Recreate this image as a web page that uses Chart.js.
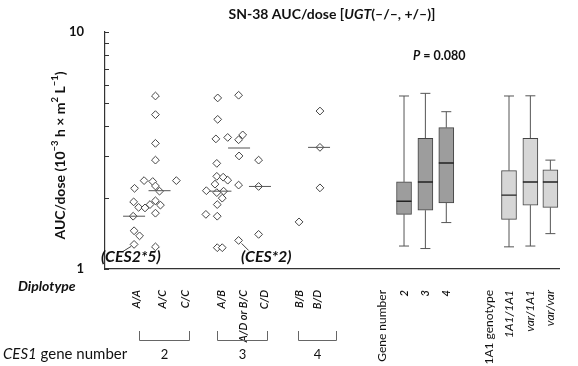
<!DOCTYPE html>
<html>
<head>
<meta charset="utf-8">
<script src="https://cdn.jsdelivr.net/npm/chart.js@4.4.0/dist/chart.umd.min.js"></script>
<style>
  html, body { margin: 0; padding: 0; background: #fff; }
  #wrap { width: 578px; height: 366px; }
</style>
</head>
<body>
<div id="wrap"><canvas id="auc" width="578" height="366"></canvas></div>
<script>
// x axis is a plain 0..100 scale across the plot, categories sit at these positions
const diplotypes = ['A/A', 'A/C', 'C/C', 'A/B', 'A/D or B/C', 'C/D', 'B/B', 'B/D'];
const diplotypePos = [7.0, 11.1, 15.7, 24.7, 29.4, 33.8, 42.7, 47.3];

// SN-38 AUC/dose per patient
const aucAA = [2.19, 2.36, 1.92, 1.82, 1.81, 1.67, 1.45, 1.38, 1.27];
const aucAC = [5.37, 4.48, 3.39, 2.88, 2.34, 2.24, 2.13, 1.87, 1.94, 1.86, 1.72, 1.24];
const aucCC = [2.36];
const aucAB = [5.27, 4.28, 3.54, 3.59, 2.79, 2.46, 2.44, 2.37, 2.28, 2.14, 2.10, 2.13, 1.99, 1.87, 1.70, 1.67, 1.23, 1.23];
const aucADBC = [5.41, 3.51, 3.68, 3.00, 2.26, 1.32];
const aucCD = [2.88, 2.23, 1.40];
const aucBB = [1.58];
const aucBD = [4.64, 3.26, 2.20];

// horizontal spread of overlapping points
const jitAA = [-0.5, 1.6, -0.7, 0.4, 1.8, -0.8, -0.6, 0.6, -0.6];
const jitAC = [0, 0, 0, 0, -0.6, 0, 0.9, -1.2, 0, 1.1, 0, 0];
const jitCC = [0];
const jitAB = [0.1, 0.1, -0.3, 2.3, -0.1, -0.1, 1.3, 2.3, -0.5, -2.4, -0.1, 1.4, 1.1, 0, -2.5, 0, 0, 1.1];
const jitADBC = [0, 0, 0.9, 0.1, 0, 0];
const jitCD = [0, 0, 0];
const jitBB = [0];
const jitBD = [0, 0, 0];

const diplotypeMedian = [1.67, 2.14, null, 2.13, 3.24, 2.23, null, 3.26];
const medianShift = [-0.6, 0.9, 0, 0.7, 0.1, 0.3, 0, -0.2];

// box plots: CES1 gene number 2,3,4 then UGT1A1 genotype
const boxPos = [65.8, 70.5, 75.1, 88.9, 93.6, 98.0];
const boxMin = [1.25, 1.22, 1.57, 1.24, 1.25, 1.41];
const boxQ1 = [1.70, 1.77, 1.90, 1.62, 1.86, 1.82];
const boxMed = [1.93, 2.33, 2.80, 2.05, 2.33, 2.33];
const boxQ3 = [2.33, 3.56, 3.95, 2.60, 3.56, 2.62];
const boxMax = [5.37, 5.51, 4.61, 5.37, 5.38, 2.88];
const boxFill = ['#9d9d9d', '#9d9d9d', '#9d9d9d', '#d6d6d6', '#d6d6d6', '#d6d6d6'];

const xTickLabels = ['A/A', 'A/C', 'C/C', 'A/B', 'A/D or B/C', 'C/D', 'B/B', 'B/D',
  'Gene number', '2', '3', '4', '1A1 genotype', '1A1/1A1', 'var/1A1', 'var/var'];
const xTickPos = [7.0, 12.7, 17.8, 25.6, 30.5, 35.0, 42.8, 46.7,
  61.0, 65.8, 70.5, 75.1, 84.5, 88.9, 93.6, 98.0];
const xTickKind = ['d', 'd', 'd', 'd', 'd', 'd', 'd', 'd', 'n', 'd', 'd', 'd', 'n', 'i', 'i', 'i'];
const yTicks = [1, 2, 3, 4, 5, 6, 7, 8, 9, 10];

const geneGroups = ['2', '3', '4'];
const bracketSpan = [[7.4, 18.4], [24.6, 35.6], [42.4, 50.8]];

const groups = [
  [aucAA, jitAA], [aucAC, jitAC], [aucCC, jitCC], [aucAB, jitAB],
  [aucADBC, jitADBC], [aucCD, jitCD], [aucBB, jitBB], [aucBD, jitBD]
];
const scatterPts = [];
groups.forEach((g, gi) => g[0].forEach((v, i) => scatterPts.push({ x: diplotypePos[gi] + g[1][i], y: v })));
const medianPts = [];
diplotypeMedian.forEach((m, i) => { if (m !== null) medianPts.push({ x: diplotypePos[i] + medianShift[i], y: m }); });

const whiskerPts = [];
boxPos.forEach((x, i) => {
  whiskerPts.push({ x, y: boxMin[i] }, { x, y: boxQ1[i] }, { x, y: null });
  whiskerPts.push({ x, y: boxQ3[i] }, { x, y: boxMax[i] }, { x, y: null });
});
const capPts = [];
boxPos.forEach((x, i) => { capPts.push({ x, y: boxMin[i] }, { x, y: boxMax[i] }); });

const FONT = 'Lato';

function richText(ctx, parts, x, y, size, align) {
  const fonts = parts.map(p => {
    const s = p[1] === 'sup' ? size * 0.68 : size;
    const st = p[1] === 'i' ? 'italic ' : '';
    const w = p[2] || 'bold';
    return st + w + ' ' + s + 'px ' + FONT;
  });
  let w = 0;
  parts.forEach((p, i) => { ctx.font = fonts[i]; w += ctx.measureText(p[0]).width; });
  let cx = align === 'center' ? x - w / 2 : x;
  ctx.textAlign = 'left';
  parts.forEach((p, i) => {
    ctx.font = fonts[i];
    ctx.fillText(p[0], cx, p[1] === 'sup' ? y - size * 0.38 : y);
    cx += ctx.measureText(p[0]).width;
  });
}

const annotate = {
  id: 'annotate',
  afterDraw(chart) {
    const { ctx, chartArea: a, scales: { x, y } } = chart;
    ctx.save();
    ctx.fillStyle = '#111';
    ctx.textBaseline = 'middle';

    richText(ctx, [['SN-38 AUC/dose [', ''], ['UGT', 'i'], ['(\u2013/\u2013, +/\u2013)]', '']], 332, 14, 14, 'center');
    richText(ctx, [['P', 'i'], [' = 0.080', '']], 413, 56, 12.5, 'left');

    ctx.save();
    ctx.translate(60, (a.top + a.bottom) / 2 + 5);
    ctx.rotate(-Math.PI / 2);
    richText(ctx, [['AUC/dose (10', ''], ['\u22123', 'sup'], [' h \u00d7 m', ''], ['2', 'sup'], [' L', ''], ['\u22121', 'sup'], [')', '']], 0, 0, 14, 'center');
    ctx.restore();

    // inward tick marks on the y axis
    ctx.strokeStyle = '#333';
    ctx.lineWidth = 1;
    y.ticks.forEach(t => {
      const py = Math.round(y.getPixelForValue(t.value)) + 0.5;
      ctx.beginPath();
      ctx.moveTo(a.left, py);
      ctx.lineTo(a.left + 4, py);
      ctx.stroke();
    });

    // allele labels with leader lines
    const pA = { x: x.getPixelForValue(diplotypePos[0] + jitAA[8]), y: y.getPixelForValue(aucAA[8]) };
    const pB = { x: x.getPixelForValue(diplotypePos[4] + jitADBC[5]), y: y.getPixelForValue(aucADBC[5]) };
    ctx.strokeStyle = '#444';
    ctx.beginPath();
    ctx.moveTo(pA.x - 11, pA.y + 7); ctx.lineTo(pA.x - 3, pA.y + 2);
    ctx.moveTo(pB.x + 3, pB.y + 3); ctx.lineTo(pB.x + 10, pB.y + 10);
    ctx.stroke();
    richText(ctx, [['(CES2*5)', 'i']], a.left - 4, 257, 16, 'left');
    richText(ctx, [['(CES*2)', 'i']], 241, 257, 16, 'left');

    richText(ctx, [['Diplotype', 'i']], 18, 286, 14, 'left');

    // CES1 gene number brackets
    ctx.strokeStyle = '#666';
    bracketSpan.forEach((s, i) => {
      const x1 = Math.round(x.getPixelForValue(s[0])) + 0.5;
      const x2 = Math.round(x.getPixelForValue(s[1])) + 0.5;
      ctx.beginPath();
      ctx.moveTo(x1, 331); ctx.lineTo(x1, 340.5); ctx.lineTo(x2, 340.5); ctx.lineTo(x2, 331);
      ctx.stroke();
      richText(ctx, [[geneGroups[i], '', 'normal']], (x1 + x2) / 2, 355, 13, 'center');
    });
    richText(ctx, [['CES1', 'i', 'normal'], [' gene number', '', 'normal']], 3, 354, 15, 'left');
    ctx.restore();
  }
};

new Chart(document.getElementById('auc'), {
  type: 'scatter',
  data: {
    datasets: [
      {
        type: 'scatter', data: scatterPts, order: 1,
        pointStyle: 'rectRot', pointRadius: 3.9, pointBackgroundColor: '#fff',
        pointBorderColor: '#444', pointBorderWidth: 1
      },
      {
        type: 'scatter', data: medianPts, order: 0,
        pointStyle: 'line', pointRadius: 11, pointBorderColor: '#555', pointBorderWidth: 1
      },
      {
        type: 'line', data: whiskerPts, order: 4, spanGaps: false,
        borderColor: '#555', borderWidth: 1, pointRadius: 0, fill: false
      },
      {
        type: 'bar', order: 3,
        data: boxPos.map((x, i) => ({ x, y: [boxQ1[i], boxQ3[i]] })),
        backgroundColor: boxFill, borderColor: '#444', borderWidth: 1,
        borderSkipped: false, barThickness: 15
      },
      {
        type: 'scatter', data: capPts, order: 2,
        pointStyle: 'line', pointRadius: 5, pointBorderColor: '#555', pointBorderWidth: 1
      },
      {
        type: 'scatter', order: 2,
        data: boxPos.map((x, i) => ({ x, y: boxMed[i] })),
        pointStyle: 'line', pointRadius: 7.5, pointBorderColor: '#222', pointBorderWidth: 1.4
      }
    ]
  },
  options: {
    responsive: false,
    animation: false,
    events: [],
    layout: { padding: { top: 32, right: 1, left: 0, bottom: 0 } },
    plugins: { legend: { display: false }, tooltip: { enabled: false } },
    scales: {
      x: {
        type: 'linear', min: 0, max: 100, offset: false,
        grid: { display: false },
        border: { display: true, color: '#333', width: 1.2 },
        afterBuildTicks: s => { s.ticks = xTickPos.map(v => ({ value: v })); },
        afterFit: s => { s.height = 97; },
        ticks: {
          autoSkip: false, minRotation: 90, maxRotation: 90, padding: 13, color: '#111',
          callback: (v, i) => xTickLabels[i],
          font: c => ({
            family: FONT, size: xTickKind[c.index] === 'd' ? 11 : 12,
            style: xTickKind[c.index] === 'n' ? 'normal' : 'italic',
            weight: xTickKind[c.index] === 'd' ? '600' : 'normal'
          })
        }
      },
      y: {
        type: 'logarithmic', min: 1, max: 10,
        grid: { display: false },
        border: { display: true, color: '#333', width: 1.2 },
        afterBuildTicks: s => { s.ticks = yTicks.map(v => ({ value: v })); },
        afterFit: s => { s.width = 105; },
        ticks: {
          padding: 13, color: '#111',
          callback: v => (v === 1 || v === 10) ? String(v) : '',
          font: { family: FONT, size: 13, weight: 'bold' }
        }
      }
    }
  },
  plugins: [annotate]
});
</script>
</body>
</html>
